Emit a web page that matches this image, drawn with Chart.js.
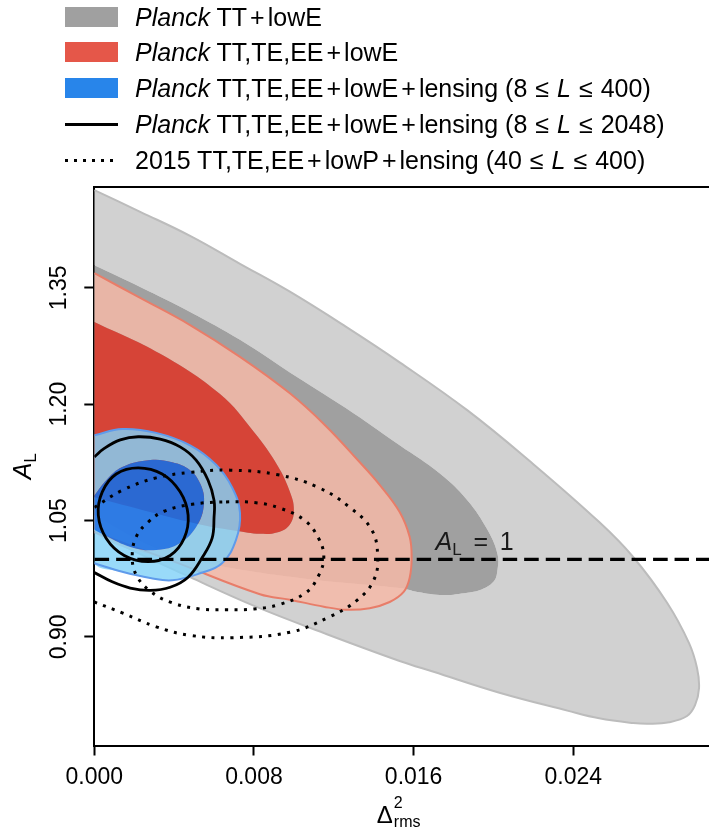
<!DOCTYPE html>
<html>
<head>
<meta charset="utf-8">
<script src="https://cdn.jsdelivr.net/npm/chart.js@4.4.0/dist/chart.umd.min.js"></script>
<style>
  html, body { margin: 0; padding: 0; background: #fff; }
  #wrap { position: relative; width: 709px; height: 830px; }
  canvas { display: block; }
  #legend { position: absolute; left: 0; top: 0; width: 709px; }
  #legend .row { position: absolute; left: 65px; height: 30px; display: flex; align-items: center;
    white-space: nowrap; font: 25px "Liberation Sans", Arial, sans-serif; color: #000; }
  .sw { display: inline-block; width: 53px; height: 20px; margin-right: 17px; }
  .ln { display: inline-block; width: 53px; height: 3px; margin-right: 17px; background: #000; }
  .dt { display: inline-block; width: 53px; height: 3px; margin-right: 17px;
    background: repeating-linear-gradient(90deg, #000 0 3px, transparent 3px 9px); }
  .op { margin: 0 3px; }
  .rel { margin: 0 8px; }
</style>
</head>
<body>
<div id="wrap">
  <canvas id="c" width="709" height="830"></canvas>
  <div id="legend">
    <div class="row" style="top:2px"><span class="sw" style="background:#a0a0a0"></span><span><i>Planck</i> TT<span class="op">+</span>lowE</span></div>
    <div class="row" style="top:37px"><span class="sw" style="background:#e55749"></span><span><i>Planck</i> TT,TE,EE<span class="op">+</span>lowE</span></div>
    <div class="row" style="top:73px"><span class="sw" style="background:#2885ea"></span><span><i>Planck</i> TT,TE,EE<span class="op">+</span>lowE<span class="op">+</span>lensing (8<span class="rel">≤</span><i>L</i><span class="rel">≤</span>400)</span></div>
    <div class="row" style="top:109px"><span class="ln"></span><span><i>Planck</i> TT,TE,EE<span class="op">+</span>lowE<span class="op">+</span>lensing (8<span class="rel">≤</span><i>L</i><span class="rel">≤</span>2048)</span></div>
    <div class="row" style="top:145px"><span class="dt"></span><span>2015 TT,TE,EE<span class="op">+</span>lowP<span class="op">+</span>lensing (40<span class="rel">≤</span><i>L</i><span class="rel">≤</span>400)</span></div>
  </div>
</div>
<script>
  const FONT = '"Liberation Sans", Arial, sans-serif';

  // axes
  const xTicks = [0, 0.008, 0.016, 0.024];
  const yTicks = [0.90, 1.05, 1.20, 1.35];
  const xRange = [0, 0.0308];
  const yRange = [0.76, 1.48];
  const refLineY = 1.0;
  const refLabelAt = [0.0171, 1.012];

  // contours: [Delta^2_rms, A_L]
  // Planck TT+lowE
  const ttLowE95 = [[0.0000,1.476],[0.0023,1.448],[0.0048,1.417],[0.0073,1.381],[0.0098,1.345],[0.0126,1.300],
    [0.0153,1.254],[0.0187,1.192],[0.0218,1.127],[0.0253,1.048],[0.0270,1.003],[0.0287,0.944],[0.0298,0.892],
    [0.0302,0.860],[0.0303,0.834],[0.0301,0.812],[0.0297,0.798],[0.0288,0.790],[0.0278,0.788],[0.0270,0.789],
    [0.0253,0.795],[0.0237,0.805],[0.0203,0.828],[0.0170,0.855],[0.0153,0.869],[0.0115,0.905],[0.0081,0.939],
    [0.0048,0.977],[0.0014,1.018],[0.0000,1.038]];
  const ttLowE68 = [[0.0000,1.379],[0.0023,1.351],[0.0048,1.319],[0.0073,1.283],[0.0098,1.241],[0.0126,1.195],
    [0.0153,1.147],[0.0173,1.111],[0.0187,1.076],[0.0197,1.038],[0.0202,1.007],[0.0202,0.986],[0.0200,0.971],
    [0.0193,0.960],[0.0187,0.957],[0.0175,0.954],[0.0162,0.958],[0.0153,0.963],[0.0103,0.976],[0.0053,0.997],
    [0.0028,1.018],[0.0000,1.057]];

  // Planck TT,TE,EE+lowE
  const allLowE95 = [[0.0000,1.369],[0.0023,1.337],[0.0048,1.302],[0.0073,1.261],[0.0098,1.214],[0.0116,1.172],
    [0.0132,1.128],[0.0143,1.096],[0.0153,1.061],[0.0158,1.029],[0.0159,1.002],[0.0158,0.976],[0.0155,0.958],
    [0.0148,0.945],[0.0138,0.937],[0.0126,0.935],[0.0115,0.939],[0.0098,0.948],[0.0083,0.955],[0.0040,0.997],
    [0.0000,1.035]];
  const allLowE68 = [[0.0000,1.306],[0.0033,1.265],[0.0063,1.213],[0.0080,1.164],[0.0092,1.120],[0.0098,1.087],
    [0.0100,1.064],[0.0098,1.045],[0.0092,1.035],[0.0083,1.033],[0.0071,1.037],[0.0053,1.045],[0.0028,1.061],
    [0.0000,1.080]];

  // Planck TT,TE,EE+lowE+lensing (8 <= L <= 400)
  const lens400_95 = [[0.0000,1.160],[0.0014,1.168],[0.0031,1.163],[0.0048,1.147],[0.0061,1.122],[0.0069,1.093],
    [0.0073,1.060],[0.0071,1.025],[0.0064,0.995],[0.0053,0.982],[0.0039,0.973],[0.0028,0.976],[0.0014,0.984],
    [0.0000,0.995]];
  const lens400_68 = [[0.0000,1.082],[0.0006,1.102],[0.0014,1.119],[0.0028,1.128],[0.0039,1.125],[0.0048,1.115],
    [0.0053,1.098],[0.0055,1.075],[0.0052,1.046],[0.0043,1.021],[0.0031,1.012],[0.0018,1.016],[0.0006,1.030],
    [0.0000,1.038]];

  // Planck TT,TE,EE+lowE+lensing (8 <= L <= 2048)
  const lens2048_95 = [[0.0000,1.132],[0.0005,1.143],[0.0013,1.154],[0.0022,1.158],[0.0033,1.155],[0.0043,1.145],
    [0.0051,1.128],[0.0057,1.102],[0.0060,1.076],[0.0060,1.054],[0.0059,1.027],[0.0054,1.002],[0.0047,0.977],
    [0.0038,0.964],[0.0028,0.960],[0.0018,0.963],[0.0009,0.971],[0.0000,0.983]];
  const lens2048_68 = [[0.0022,1.118],[0.0034,1.110],[0.0043,1.087],[0.0047,1.057],[0.0045,1.027],[0.0038,1.005],
    [0.0027,0.997],[0.0015,1.005],[0.0006,1.027],[0.0002,1.057],[0.0004,1.087],[0.0011,1.110]];

  // 2015 TT,TE,EE+lowP+lensing (40 <= L <= 400)
  const p2015_95 = [[0.0000,1.067],[0.0014,1.089],[0.0031,1.105],[0.0048,1.112],[0.0068,1.115],[0.0092,1.109],
    [0.0112,1.093],[0.0128,1.067],[0.0139,1.038],[0.0142,1.003],[0.0140,0.973],[0.0132,0.948],[0.0118,0.926],
    [0.0098,0.906],[0.0069,0.899],[0.0048,0.902],[0.0031,0.913],[0.0014,0.931],[0.0000,0.945]];
  const p2015_68 = [[0.0066,1.074],[0.0081,1.073],[0.0093,1.066],[0.0105,1.051],[0.0112,1.029],[0.0115,1.003],
    [0.0112,0.977],[0.0106,0.957],[0.0093,0.942],[0.0080,0.936],[0.0066,0.935],[0.0053,0.936],[0.0039,0.944],
    [0.0028,0.959],[0.0021,0.980],[0.0019,1.004],[0.0021,1.029],[0.0027,1.048],[0.0035,1.062],[0.0049,1.071]];

  const pts = arr => arr.map(([x, y]) => ({x, y}));
  // 95% band = outer contour then inner contour walked backwards (ring touching the x=0 edge)
  const ring = (outer, inner) => pts(outer.concat(inner.slice().reverse()));

  function area(data, color) {
    return {data, backgroundColor: color, borderWidth: 0, fill: 'shape',
      showLine: true, pointRadius: 0, tension: 0.4};
  }
  function curve(data, color, width, dash, closed) {
    return {data, borderColor: color, borderWidth: width, borderDash: dash || [], borderCapStyle: 'butt',
      fill: false, showLine: true, pointRadius: 0, tension: 0.4, closed: !!closed};
  }

  // listed bottom to top
  const datasets = [
    area(ring(ttLowE95, ttLowE68), 'rgb(209,209,209)'),
    area(pts(ttLowE68), 'rgb(160,160,160)'),
    curve(pts(ttLowE95), 'rgb(188,188,188)', 2),
    area(ring(allLowE95, allLowE68), 'rgba(246,185,167,0.84)'),
    area(pts(allLowE68), 'rgba(224,50,35,0.84)'),
    curve(pts(allLowE95), 'rgb(232,125,105)', 2),
    area(ring(lens400_95, lens400_68), 'rgba(130,210,248,0.82)'),
    area(pts(lens400_68), 'rgba(10,112,240,0.84)'),
    curve(pts(lens400_95), 'rgb(95,155,235)', 2),
    curve(pts(lens2048_95), '#000', 2.8),
    curve(pts(lens2048_68), '#000', 2.8, null, true),
    curve(pts(p2015_95), '#000', 3, [3, 6.5]),
    curve(pts(p2015_68), '#000', 3, [3, 6.5], true),
    curve(pts([[xRange[0], refLineY], [xRange[1], refLineY]]), '#000', 3.2, [14.5, 7])
  ];
  datasets.forEach((d, i) => { d.order = datasets.length - i; });

  // closed contours: let the line element wrap round like a radar line
  const closeLoops = {
    id: 'closeLoops',
    afterDatasetsUpdate(chart) {
      chart.data.datasets.forEach((d, i) => {
        const line = chart.getDatasetMeta(i).dataset;
        if (d.closed && line) {
          line._loop = true;
          line._fullLoop = true;
        }
      });
    }
  };

  const overlay = {
    id: 'overlay',
    afterDraw(chart) {
      const {ctx, chartArea: a, scales: {x, y}} = chart;
      ctx.save();
      // top frame line
      ctx.strokeStyle = '#000';
      ctx.lineWidth = 2;
      ctx.beginPath();
      ctx.moveTo(a.left - 1, a.top);
      ctx.lineTo(a.right, a.top);
      ctx.stroke();

      ctx.fillStyle = '#000';
      // y tick labels, turned like the original
      ctx.font = '23px ' + FONT;
      ctx.textAlign = 'center';
      ctx.textBaseline = 'middle';
      for (const t of y.ticks) {
        ctx.save();
        ctx.translate(a.left - 35, y.getPixelForValue(t.value));
        ctx.rotate(-Math.PI / 2);
        ctx.fillText(t.value.toFixed(2), 0, 0);
        ctx.restore();
      }

      ctx.textAlign = 'left';
      ctx.textBaseline = 'alphabetic';
      // y title A_L
      ctx.save();
      ctx.translate(22, (a.top + a.bottom) / 2);
      ctx.rotate(-Math.PI / 2);
      ctx.font = 'italic 25px ' + FONT;
      const wA = ctx.measureText('A').width;
      ctx.font = '17px ' + FONT;
      const wL = ctx.measureText('L').width;
      const y0 = -(wA + wL) / 2;
      ctx.font = 'italic 25px ' + FONT;
      ctx.fillText('A', y0, 9);
      ctx.font = '17px ' + FONT;
      ctx.fillText('L', y0 + wA, 14);
      ctx.restore();

      // x title Delta^2_rms
      ctx.font = '24px ' + FONT;
      const wD = ctx.measureText('Δ').width;
      ctx.font = '16px ' + FONT;
      const wS = Math.max(ctx.measureText('2').width, ctx.measureText('rms').width);
      const sx = (a.left + a.right) / 2 - 3 - (wD + 1 + wS) / 2;
      ctx.font = '24px ' + FONT;
      ctx.fillText('Δ', sx, 823);
      ctx.font = '16px ' + FONT;
      ctx.fillText('2', sx + wD + 1, 808);
      ctx.fillText('rms', sx + wD + 1, 827);

      // A_L = 1 label
      const ax = x.getPixelForValue(refLabelAt[0]);
      const ay = y.getPixelForValue(refLabelAt[1]);
      ctx.fillStyle = '#1a1a1a';
      ctx.font = 'italic 25px ' + FONT;
      const wA2 = ctx.measureText('A').width;
      ctx.fillText('A', ax, ay);
      ctx.font = '17px ' + FONT;
      const wL2 = ctx.measureText('L').width;
      ctx.fillText('L', ax + wA2, ay + 5);
      ctx.font = '25px ' + FONT;
      const eqC = ax + wA2 + wL2 + 19;
      ctx.textAlign = 'center';
      ctx.fillText('=', eqC, ay);
      ctx.textAlign = 'left';
      ctx.fillText('1', eqC + 19, ay);
      ctx.restore();
    }
  };

  const axisGrid = {drawOnChartArea: false, drawTicks: true, tickLength: 10, tickWidth: 2, tickColor: '#000'};

  new Chart(document.getElementById('c'), {
    type: 'scatter',
    data: {datasets},
    options: {
      responsive: false,
      animation: false,
      devicePixelRatio: 1,
      events: [],
      layout: {padding: {top: 187, left: 84.3, right: 0, bottom: 0}},
      plugins: {legend: {display: false}, tooltip: {enabled: false}},
      scales: {
        x: {
          type: 'linear', min: xRange[0], max: xRange[1], z: 1,
          afterBuildTicks: s => { s.ticks = xTicks.map(v => ({value: v})); },
          afterFit: s => { s.height = 84.5; },
          grid: axisGrid,
          border: {color: '#000', width: 2},
          ticks: {color: '#000', font: {family: FONT, size: 23}, padding: 8, maxRotation: 0,
            callback: v => v.toFixed(3)}
        },
        y: {
          type: 'linear', min: yRange[0], max: yRange[1], z: 1,
          afterBuildTicks: s => { s.ticks = yTicks.map(v => ({value: v})); },
          afterFit: s => { s.width = 10; },
          grid: axisGrid,
          border: {color: '#000', width: 2},
          ticks: {display: false}
        }
      }
    },
    plugins: [closeLoops, overlay]
  });
</script>
</body>
</html>
